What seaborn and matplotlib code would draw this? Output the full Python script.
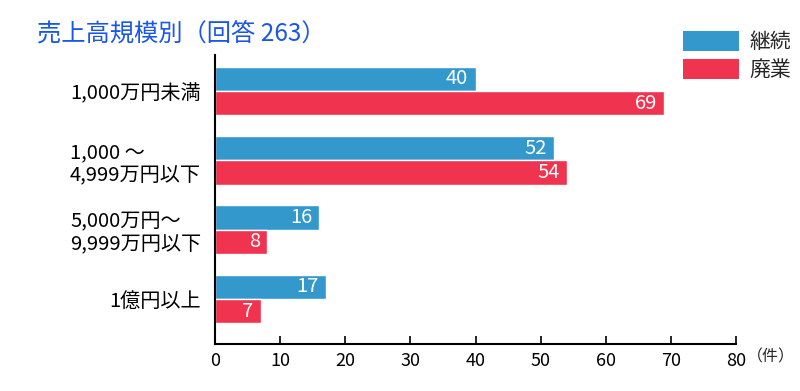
import matplotlib
matplotlib.use("Agg")
import matplotlib.pyplot as plt
import seaborn as sns
import pandas as pd
from matplotlib.patches import Patch

categories = ["1,000万円未満", "1,000 ～\n4,999万円以下", "5,000万円～\n9,999万円以下", "1億円以上"]
series_names = ["継続", "廃業"]
continued = [40, 52, 16, 17]
closed = [69, 54, 8, 7]
xticks = [0, 10, 20, 30, 40, 50, 60, 70, 80]

colors = {"継続": "#3399cc", "廃業": "#f0334f"}

sns.set_theme(style="white")
plt.rcParams['font.family'] = ['Noto Sans CJK JP', 'DejaVu Sans']

df = pd.DataFrame({
    "cat": categories * 2,
    "series": [series_names[0]] * 4 + [series_names[1]] * 4,
    "value": continued + closed,
})

fig = plt.figure(figsize=(8, 3.91), dpi=100)
ax = fig.add_axes([215/800, 1-344/391, (736-215)/800, (344-55)/391])
sns.barplot(data=df, y="cat", x="value", hue="series", palette=colors,
            orient="h", width=0.7, ax=ax, legend=False, saturation=1)

for cont in ax.containers:
    for bar in cont:
        w = bar.get_width()
        ax.text(w - 1.1, bar.get_y() + bar.get_height()/2, f"{int(w)}",
                ha="right", va="center", color="white", fontsize=14.5)

ax.set_xlim(0, 80)
ax.set_ylim(3.65, -0.52)
ax.set_xticks(xticks)
ax.set_xticklabels([str(t) for t in xticks], fontsize=13)
ax.set_yticks(range(len(categories)))
ax.set_yticklabels(categories, fontsize=14.5, ha="right", multialignment="left",
                   linespacing=1.15)
ax.set_xlabel("")
ax.set_ylabel("")
for s in ["top", "right"]:
    ax.spines[s].set_visible(False)
for s in ["left", "bottom"]:
    ax.spines[s].set_color("black")
    ax.spines[s].set_linewidth(1.5)
ax.xaxis.set_ticks_position("bottom")
ax.tick_params(axis="x", which="major", bottom=True, direction="in", length=6, width=1.2,
               color="black", pad=6, labelcolor="black")
ax.tick_params(axis="y", left=False, length=0, pad=10, labelcolor="black")

fig.text(37/800, 1-34/391, "売上高規模別（回答 263）", color="#1a56e8", fontsize=17.5, va="center", ha="left")
fig.text(747/800, 1-357/391, "（件）", fontsize=11.5, va="center", ha="left")

handles = [Patch(facecolor=colors[n], edgecolor="none") for n in series_names]
fig.legend(handles, series_names, loc="upper left", bbox_to_anchor=(664/800, 1-12/391),
           frameon=False, fontsize=15, handlelength=2.7, handleheight=1.1,
           handletextpad=0.5, labelspacing=0.3)

fig.savefig("out.png", dpi=100)
